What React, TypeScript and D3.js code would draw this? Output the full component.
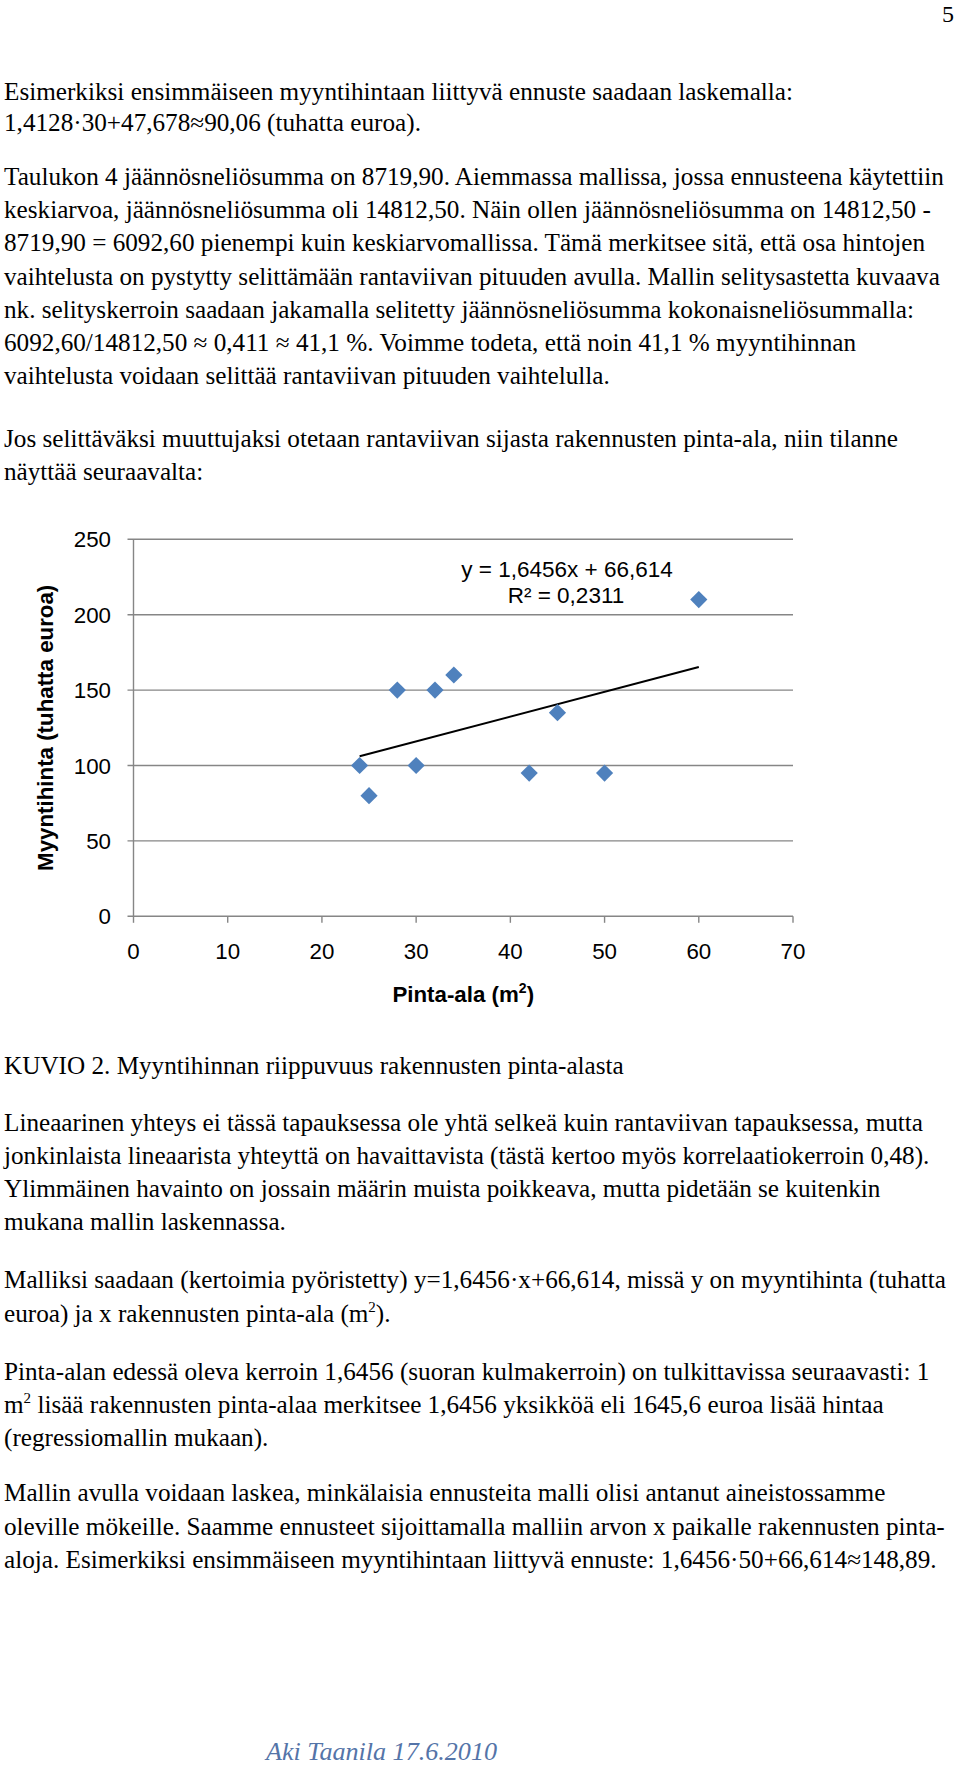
import React from "react";
import * as d3 from "d3";

// ---------- data ----------
const areas = [50, 24, 25, 28, 30, 32, 34, 42, 45, 60]; // Pinta-ala (m2)
const prices = [95, 100, 80, 150, 100, 150, 160, 95, 135, 210]; // Myyntihinta (tuhatta euroa)
const xTicks = [0, 10, 20, 30, 40, 50, 60, 70];
const yTicks = [0, 50, 100, 150, 200, 250];
const xTickLabels = ["0", "10", "20", "30", "40", "50", "60", "70"];
const yTickLabels = ["0", "50", "100", "150", "200", "250"];
const equationText = "y = 1,6456x + 66,614";
const r2Text = "R² = 0,2311";
const yAxisTitle = "Myyntihinta (tuhatta euroa)";
const xAxisTitle = "Pinta-ala (m";
const xAxisTitleSup = "2";

// ---------- document text ----------
const para1 = [
  "Esimerkiksi ensimmäiseen myyntihintaan liittyvä ennuste saadaan laskemalla:",
  "1,4128·30+47,678≈90,06 (tuhatta euroa).",
];
const para2 = [
  "Taulukon 4 jäännösneliösumma on 8719,90. Aiemmassa mallissa, jossa ennusteena käytettiin",
  "keskiarvoa, jäännösneliösumma oli 14812,50. Näin ollen jäännösneliösumma on 14812,50 -",
  "8719,90 = 6092,60 pienempi kuin keskiarvomallissa. Tämä merkitsee sitä, että osa hintojen",
  "vaihtelusta on pystytty selittämään rantaviivan pituuden avulla. Mallin selitysastetta kuvaava",
  "nk. selityskerroin saadaan jakamalla selitetty jäännösneliösumma kokonaisneliösummalla:",
  "6092,60/14812,50 ≈ 0,411 ≈ 41,1 %. Voimme todeta, että noin 41,1 % myyntihinnan",
  "vaihtelusta voidaan selittää rantaviivan pituuden vaihtelulla.",
];
const para3 = [
  "Jos selittäväksi muuttujaksi otetaan rantaviivan sijasta rakennusten pinta-ala, niin tilanne",
  "näyttää seuraavalta:",
];
const caption = ["KUVIO 2. Myyntihinnan riippuvuus rakennusten pinta-alasta"];
const para4 = [
  "Lineaarinen yhteys ei tässä tapauksessa ole yhtä selkeä kuin rantaviivan tapauksessa, mutta",
  "jonkinlaista lineaarista yhteyttä on havaittavista (tästä kertoo myös korrelaatiokerroin 0,48).",
  "Ylimmäinen havainto on jossain määrin muista poikkeava, mutta pidetään se kuitenkin",
  "mukana mallin laskennassa.",
];
const para5 = [
  "Malliksi saadaan (kertoimia pyöristetty) y=1,6456·x+66,614, missä y on myyntihinta (tuhatta",
  "euroa) ja x rakennusten pinta-ala (m^2).",
];
const para6 = [
  "Pinta-alan edessä oleva kerroin 1,6456 (suoran kulmakerroin) on tulkittavissa seuraavasti: 1",
  "m^2 lisää rakennusten pinta-alaa merkitsee 1,6456 yksikköä eli 1645,6 euroa lisää hintaa",
  "(regressiomallin mukaan).",
];
const para7 = [
  "Mallin avulla voidaan laskea, minkälaisia ennusteita malli olisi antanut aineistossamme",
  "oleville mökeille. Saamme ennusteet sijoittamalla malliin arvon x paikalle rakennusten pinta-",
  "aloja. Esimerkiksi ensimmäiseen myyntihintaan liittyvä ennuste: 1,6456·50+66,614≈148,89.",
];
const footer = "Aki Taanila 17.6.2010";
const pageNumber = "5";

const SERIF = "Liberation Serif";
const SANS = "Liberation Sans";
const BODY_SIZE = 25.2;

function Line({ text, x, y }: { text: string; x: number; y: number }) {
  const parts = text.split("^2");
  return (
    <text x={x} y={y} fontFamily={SERIF} fontSize={BODY_SIZE} fill="#000">
      {parts.map((p, i) => (
        <React.Fragment key={i}>
          {i > 0 && (
            <tspan fontSize={15} dy={-10}>
              2
            </tspan>
          )}
          <tspan dy={i > 0 ? 10 : 0}>{p}</tspan>
        </React.Fragment>
      ))}
    </text>
  );
}

function Paragraph({ lines, y0, pitch }: { lines: string[]; y0: number; pitch: number }) {
  return (
    <g>
      {lines.map((t, i) => (
        <Line key={i} text={t} x={4} y={y0 + i * pitch} />
      ))}
    </g>
  );
}

export default function App() {
  const W = 960;
  const H = 1766;
  const left = 133.5;
  const right = 793;
  const top = 539.3;
  const bottom = 916.3;

  const x = d3.scaleLinear().domain([0, 70]).range([left, right]);
  const y = d3.scaleLinear().domain([0, 250]).range([bottom, top]);

  // least-squares trendline from the data
  const mx = d3.mean(areas)!;
  const my = d3.mean(prices)!;
  let sxy = 0;
  let sxx = 0;
  areas.forEach((a, i) => {
    sxy += (a - mx) * (prices[i] - my);
    sxx += (a - mx) * (a - mx);
  });
  const slope = sxy / sxx;
  const intercept = my - slope * mx;
  const [xmin, xmax] = d3.extent(areas) as [number, number];
  const trend = d3
    .line<number>()
    .x((d) => x(d))
    .y((d) => y(intercept + slope * d))([xmin, xmax]);

  const diamond = (cx: number, cy: number, r: number) =>
    `M${cx},${cy - r}L${cx + r},${cy}L${cx},${cy + r}L${cx - r},${cy}Z`;

  const gridColor = "#868686";
  const pitch = 33.2;

  return (
    <svg
      width={W}
      height={H}
      viewBox={`0 0 ${W} ${H}`}
      style={{ position: "absolute", left: 0, top: 0, background: "#fff" }}
    >
      <rect x={0} y={0} width={W} height={H} fill="#fff" />
      <text x={954} y={22} textAnchor="end" fontFamily={SERIF} fontSize={24} fill="#000">
        {pageNumber}
      </text>

      <Paragraph lines={para1} y0={99.5} pitch={31} />
      <Paragraph lines={para2} y0={185} pitch={pitch} />
      <Paragraph lines={para3} y0={446.6} pitch={pitch} />

      {/* chart */}
      <g>
        {yTicks.map((t) => (
          <line
            key={"g" + t}
            x1={x(0) - 6}
            x2={right}
            y1={y(t)}
            y2={y(t)}
            stroke={gridColor}
            strokeWidth={1.4}
          />
        ))}
        <line x1={left} x2={left} y1={top} y2={bottom} stroke={gridColor} strokeWidth={1.4} />
        {xTicks.map((t) => (
          <line
            key={"xt" + t}
            x1={x(t)}
            x2={x(t)}
            y1={bottom}
            y2={bottom + 6.5}
            stroke={gridColor}
            strokeWidth={1.4}
          />
        ))}
        {yTicks.map((t, i) => (
          <text
            key={"yl" + t}
            x={111}
            y={y(t) + 8}
            textAnchor="end"
            fontFamily={SANS}
            fontSize={22.3}
            fill="#000"
          >
            {yTickLabels[i]}
          </text>
        ))}
        {xTicks.map((t, i) => (
          <text
            key={"xl" + t}
            x={x(t)}
            y={959}
            textAnchor="middle"
            fontFamily={SANS}
            fontSize={22.3}
            fill="#000"
          >
            {xTickLabels[i]}
          </text>
        ))}
        <text
          transform={`translate(53,${(top + bottom) / 2}) rotate(-90)`}
          textAnchor="middle"
          fontFamily={SANS}
          fontWeight="bold"
          fontSize={22.3}
          fill="#000"
        >
          {yAxisTitle}
        </text>
        <text
          x={(left + right) / 2}
          y={1001.7}
          textAnchor="middle"
          fontFamily={SANS}
          fontWeight="bold"
          fontSize={22.3}
          fill="#000"
        >
          {xAxisTitle}
          <tspan fontSize={14} dy={-9}>
            {xAxisTitleSup}
          </tspan>
          <tspan dy={9}>)</tspan>
        </text>

        <path d={trend ?? ""} stroke="#000" strokeWidth={2} fill="none" />

        {areas.map((a, i) => (
          <path key={"p" + i} d={diamond(x(a), y(prices[i]), 8.6)} fill="#4F81BD" />
        ))}

        <text x={567} y={576.7} textAnchor="middle" fontFamily={SANS} fontSize={22.5} fill="#000">
          {equationText}
        </text>
        <text x={566} y={603.3} textAnchor="middle" fontFamily={SANS} fontSize={22.5} fill="#000">
          {r2Text}
        </text>
      </g>

      <Paragraph lines={caption} y0={1074} pitch={pitch} />
      <Paragraph lines={para4} y0={1130.5} pitch={pitch} />
      <Paragraph lines={para5} y0={1288.3} pitch={pitch} />
      <Paragraph lines={para6} y0={1379.6} pitch={pitch} />
      <Paragraph lines={para7} y0={1501.3} pitch={pitch} />

      <text
        x={266}
        y={1760}
        fontFamily={SERIF}
        fontStyle="italic"
        fontSize={26}
        fill="#5474a8"
        textLength={231}
        lengthAdjust="spacingAndGlyphs"
      >
        {footer}
      </text>
    </svg>
  );
}
